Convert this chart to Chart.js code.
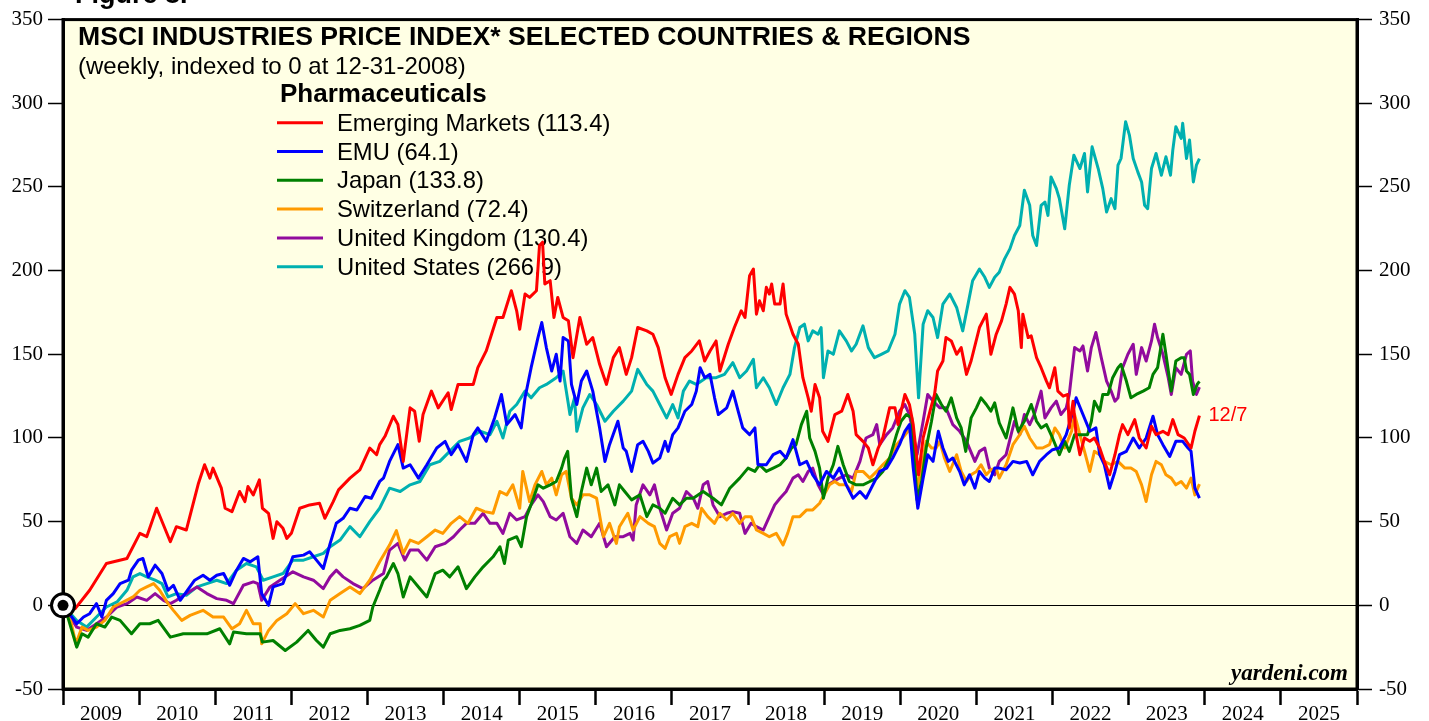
<!DOCTYPE html>
<html>
<head>
<meta charset="utf-8">
<script src="https://cdn.jsdelivr.net/npm/chart.js@4.4.1/dist/chart.umd.min.js"></script>
<style>
  html, body { margin: 0; padding: 0; background: #ffffff; }
  #wrap { width: 1429px; height: 721px; position: relative; overflow: hidden; }
  canvas { display: block; }
</style>
</head>
<body>
<div id="wrap"><canvas id="c" width="1429" height="721"></canvas></div>
<script>
// ---------------- DATA (decimal year, index value) ----------------
const emergingMarkets = [[2009.00,0],[2009.16,-2],[2009.35,9],[2009.57,25],[2009.84,28],[2010.01,43],[2010.10,41],[2010.23,58],[2010.41,38],[2010.49,47],[2010.62,45],[2010.78,73],[2010.86,84],[2010.93,76],[2010.97,82],[2011.08,70],[2011.13,58],[2011.22,56],[2011.32,68],[2011.39,62],[2011.43,71],[2011.50,66],[2011.58,75],[2011.62,58],[2011.70,55],[2011.76,40],[2011.81,50],[2011.89,46],[2011.94,40],[2012.00,43],[2012.11,58],[2012.24,60],[2012.37,61],[2012.44,52],[2012.55,62],[2012.62,69],[2012.77,76],[2012.90,81],[2013.03,94],[2013.12,90],[2013.16,96],[2013.23,101],[2013.34,113],[2013.40,108],[2013.47,86],[2013.56,118],[2013.62,116],[2013.68,98],[2013.73,114],[2013.84,128],[2013.93,118],[2014.06,127],[2014.10,117],[2014.19,132],[2014.39,132],[2014.45,142],[2014.56,152],[2014.70,172],[2014.78,172],[2014.89,188],[2014.96,176],[2015.00,165],[2015.07,186],[2015.13,184],[2015.22,188],[2015.26,215],[2015.30,217],[2015.33,192],[2015.40,194],[2015.45,172],[2015.50,184],[2015.57,172],[2015.64,170],[2015.70,148],[2015.79,172],[2015.88,156],[2015.96,160],[2016.05,144],[2016.14,132],[2016.23,148],[2016.31,154],[2016.40,138],[2016.47,148],[2016.55,166],[2016.67,164],[2016.75,162],[2016.82,154],[2016.91,136],[2016.99,126],[2017.08,138],[2017.17,148],[2017.26,152],[2017.36,158],[2017.43,146],[2017.50,152],[2017.58,158],[2017.63,140],[2017.74,156],[2017.82,166],[2017.91,176],[2017.96,172],[2018.02,197],[2018.07,201],[2018.11,174],[2018.15,182],[2018.20,176],[2018.24,190],[2018.28,186],[2018.31,192],[2018.35,180],[2018.42,180],[2018.46,192],[2018.50,174],[2018.59,162],[2018.66,156],[2018.72,136],[2018.79,124],[2018.83,116],[2018.88,132],[2018.94,124],[2018.98,104],[2019.05,98],[2019.14,114],[2019.23,116],[2019.31,126],[2019.38,116],[2019.42,102],[2019.51,98],[2019.58,94],[2019.64,84],[2019.71,94],[2019.77,100],[2019.86,118],[2019.93,118],[2019.97,108],[2020.06,126],[2020.12,120],[2020.17,108],[2020.24,78],[2020.30,100],[2020.39,116],[2020.45,126],[2020.49,140],[2020.56,146],[2020.60,160],[2020.67,158],[2020.74,150],[2020.80,154],[2020.87,138],[2020.93,146],[2021.04,166],[2021.13,174],[2021.19,150],[2021.26,162],[2021.33,170],[2021.39,180],[2021.44,190],[2021.50,186],[2021.55,176],[2021.59,154],[2021.61,174],[2021.68,160],[2021.72,161],[2021.79,148],[2021.85,142],[2021.92,134],[2021.96,130],[2022.03,142],[2022.07,128],[2022.14,125],[2022.20,126],[2022.22,106],[2022.27,122],[2022.31,102],[2022.36,90],[2022.42,100],[2022.49,98],[2022.55,100],[2022.62,94],[2022.68,86],[2022.75,78],[2022.82,90],[2022.88,102],[2022.92,108],[2022.99,102],[2023.08,111],[2023.14,100],[2023.23,94],[2023.30,107],[2023.36,102],[2023.45,104],[2023.52,102],[2023.58,111],[2023.65,102],[2023.73,100],[2023.82,94],[2023.87,104],[2023.93,113.4]];

const emu = [[2009.00,0],[2009.18,-11],[2009.27,-7],[2009.35,-5],[2009.44,1],[2009.51,-7],[2009.57,3],[2009.66,7],[2009.75,13],[2009.86,15],[2009.90,21],[2009.99,27],[2010.05,28],[2010.12,17],[2010.21,24],[2010.30,19],[2010.38,9],[2010.45,12],[2010.54,3],[2010.62,8],[2010.73,15],[2010.84,18],[2010.93,15],[2011.02,18],[2011.11,19],[2011.19,12],[2011.28,21],[2011.37,28],[2011.46,26],[2011.56,29],[2011.61,7],[2011.70,0],[2011.76,11],[2011.89,13],[2012.02,29],[2012.16,30],[2012.24,32],[2012.33,27],[2012.42,22],[2012.51,37],[2012.59,49],[2012.68,52],[2012.77,58],[2012.86,57],[2012.97,65],[2013.05,64],[2013.16,74],[2013.21,76],[2013.29,86],[2013.40,96],[2013.47,82],[2013.56,84],[2013.67,76],[2013.78,84],[2013.91,94],[2014.02,98],[2014.10,90],[2014.19,96],[2014.30,86],[2014.39,102],[2014.45,106],[2014.56,98],[2014.67,112],[2014.76,126],[2014.83,108],[2014.94,114],[2015.02,106],[2015.07,124],[2015.15,142],[2015.24,160],[2015.29,169],[2015.35,154],[2015.42,140],[2015.48,150],[2015.53,134],[2015.57,160],[2015.64,158],[2015.68,132],[2015.75,120],[2015.81,134],[2015.88,140],[2015.96,128],[2016.05,106],[2016.12,86],[2016.18,96],[2016.29,110],[2016.36,94],[2016.40,92],[2016.47,80],[2016.55,96],[2016.62,98],[2016.69,92],[2016.75,85],[2016.84,88],[2016.91,98],[2016.95,92],[2017.01,102],[2017.08,106],[2017.17,116],[2017.26,120],[2017.32,128],[2017.37,142],[2017.43,136],[2017.50,138],[2017.56,124],[2017.61,114],[2017.72,118],[2017.80,128],[2017.87,116],[2017.93,106],[2018.02,102],[2018.09,106],[2018.13,84],[2018.24,84],[2018.33,90],[2018.42,92],[2018.50,88],[2018.59,99],[2018.68,84],[2018.77,86],[2018.85,78],[2018.94,72],[2019.03,80],[2019.12,76],[2019.20,82],[2019.29,72],[2019.38,64],[2019.47,68],[2019.55,64],[2019.64,72],[2019.73,80],[2019.82,82],[2019.90,88],[2019.99,96],[2020.06,104],[2020.12,108],[2020.17,82],[2020.23,58],[2020.30,76],[2020.36,90],[2020.43,86],[2020.50,104],[2020.56,94],[2020.63,86],[2020.69,88],[2020.78,80],[2020.84,72],[2020.91,78],[2020.98,70],[2021.04,80],[2021.11,76],[2021.17,74],[2021.24,82],[2021.30,82],[2021.39,81],[2021.48,86],[2021.57,85],[2021.66,86],[2021.74,78],[2021.83,86],[2021.92,90],[2022.00,93],[2022.09,94],[2022.18,102],[2022.27,116],[2022.31,124],[2022.40,114],[2022.49,104],[2022.57,106],[2022.62,90],[2022.68,84],[2022.75,70],[2022.82,80],[2022.88,90],[2022.97,92],[2023.06,100],[2023.14,94],[2023.23,100],[2023.32,113],[2023.38,102],[2023.45,96],[2023.54,89],[2023.62,98],[2023.71,98],[2023.78,94],[2023.82,92],[2023.87,70],[2023.93,64.1]];

const japan = [[2009.00,0],[2009.05,-5],[2009.18,-25],[2009.25,-17],[2009.33,-19],[2009.44,-11],[2009.55,-13],[2009.64,-7],[2009.75,-9],[2009.90,-17],[2010.01,-11],[2010.14,-11],[2010.25,-9],[2010.41,-19],[2010.58,-17],[2010.76,-17],[2010.89,-17],[2011.06,-14],[2011.19,-23],[2011.24,-16],[2011.41,-17],[2011.59,-17],[2011.62,-22],[2011.76,-21],[2011.92,-27],[2012.07,-22],[2012.22,-15],[2012.33,-21],[2012.42,-25],[2012.51,-17],[2012.64,-15],[2012.77,-14],[2012.90,-12],[2013.03,-9],[2013.07,-1],[2013.16,9],[2013.21,15],[2013.25,17],[2013.34,25],[2013.40,19],[2013.47,5],[2013.56,17],[2013.67,11],[2013.78,5],[2013.89,19],[2013.99,21],[2014.08,17],[2014.19,23],[2014.30,10],[2014.41,17],[2014.52,23],[2014.65,29],[2014.74,35],[2014.80,25],[2014.85,39],[2014.96,41],[2015.02,35],[2015.09,53],[2015.18,64],[2015.24,72],[2015.31,70],[2015.40,72],[2015.48,74],[2015.55,82],[2015.59,88],[2015.63,92],[2015.68,64],[2015.75,53],[2015.81,68],[2015.88,82],[2015.94,72],[2016.01,82],[2016.07,68],[2016.16,72],[2016.25,60],[2016.31,72],[2016.38,68],[2016.47,63],[2016.58,66],[2016.67,53],[2016.75,60],[2016.84,58],[2016.91,55],[2017.01,64],[2017.10,60],[2017.19,64],[2017.28,64],[2017.41,68],[2017.54,64],[2017.65,60],[2017.76,70],[2017.89,76],[2018.00,82],[2018.09,80],[2018.15,84],[2018.24,80],[2018.33,82],[2018.42,84],[2018.50,88],[2018.57,94],[2018.63,96],[2018.70,108],[2018.77,116],[2018.81,100],[2018.88,92],[2018.94,82],[2018.99,64],[2019.05,76],[2019.12,84],[2019.18,95],[2019.25,84],[2019.33,74],[2019.42,72],[2019.51,72],[2019.60,74],[2019.69,76],[2019.77,80],[2019.86,88],[2019.95,102],[2020.01,110],[2020.08,114],[2020.15,112],[2020.22,63],[2020.28,74],[2020.34,94],[2020.41,110],[2020.47,126],[2020.54,120],[2020.60,116],[2020.67,124],[2020.74,112],[2020.80,106],[2020.86,92],[2020.93,112],[2021.00,118],[2021.06,124],[2021.13,120],[2021.19,116],[2021.24,121],[2021.30,109],[2021.39,100],[2021.48,118],[2021.55,104],[2021.63,110],[2021.72,120],[2021.79,110],[2021.85,106],[2021.92,108],[2022.00,100],[2022.09,90],[2022.16,98],[2022.22,92],[2022.29,102],[2022.38,102],[2022.46,102],[2022.51,110],[2022.55,122],[2022.62,116],[2022.66,126],[2022.73,126],[2022.79,136],[2022.86,142],[2022.90,144],[2022.97,134],[2023.03,124],[2023.10,126],[2023.19,128],[2023.27,130],[2023.32,138],[2023.38,142],[2023.45,162],[2023.49,150],[2023.56,128],[2023.62,146],[2023.69,148],[2023.73,148],[2023.76,140],[2023.80,138],[2023.85,126],[2023.90,132],[2023.93,133.8]];

const switzerland = [[2009.00,0],[2009.09,-7],[2009.17,-23],[2009.25,-13],[2009.33,-15],[2009.44,-13],[2009.55,-9],[2009.66,-1],[2009.79,2],[2009.92,5],[2010.01,9],[2010.10,11],[2010.19,13],[2010.27,9],[2010.38,1],[2010.45,-3],[2010.56,-9],[2010.67,-6],[2010.84,-3],[2010.97,-7],[2011.11,-7],[2011.22,-14],[2011.32,-11],[2011.41,-3],[2011.50,-11],[2011.59,-11],[2011.61,-23],[2011.70,-15],[2011.81,-9],[2011.94,-5],[2012.05,1],[2012.16,-5],[2012.29,-3],[2012.42,-7],[2012.51,3],[2012.64,7],[2012.77,11],[2012.90,7],[2013.03,15],[2013.16,26],[2013.29,36],[2013.38,44.6],[2013.47,31],[2013.56,39],[2013.67,37],[2013.78,41],[2013.89,45],[2013.99,43],[2014.10,49],[2014.21,53],[2014.32,49],[2014.43,58],[2014.54,56],[2014.65,55],[2014.74,68],[2014.83,66],[2014.91,72],[2015.00,58],[2015.04,80],[2015.13,62],[2015.20,72],[2015.29,80],[2015.35,72],[2015.42,76],[2015.48,66],[2015.55,78],[2015.61,80],[2015.68,64],[2015.75,60],[2015.83,66],[2015.92,66],[2016.01,64],[2016.10,41],[2016.18,49],[2016.27,37],[2016.31,47],[2016.42,55],[2016.49,45],[2016.58,53],[2016.69,49],[2016.77,47],[2016.84,37],[2016.91,34],[2016.97,41],[2017.06,43],[2017.10,37],[2017.17,47],[2017.26,49],[2017.34,47],[2017.39,58],[2017.47,53],[2017.56,49],[2017.63,55],[2017.72,51],[2017.80,55],[2017.89,49],[2017.96,53],[2018.04,53],[2018.11,45],[2018.20,43],[2018.28,41],[2018.37,43],[2018.46,36],[2018.52,43],[2018.59,53],[2018.68,53],[2018.77,57],[2018.85,57],[2018.94,61],[2019.01,67],[2019.07,72],[2019.14,74],[2019.20,72],[2019.29,72],[2019.36,68],[2019.42,80],[2019.51,80],[2019.60,76],[2019.69,80],[2019.77,84],[2019.86,88],[2019.95,96],[2020.03,100],[2020.10,104],[2020.15,108],[2020.17,100],[2020.22,70],[2020.28,82],[2020.34,98],[2020.41,94],[2020.47,94],[2020.52,98],[2020.58,88],[2020.65,80],[2020.74,90],[2020.80,80],[2020.87,74],[2020.93,78],[2021.00,80],[2021.06,84],[2021.13,78],[2021.19,81],[2021.26,82],[2021.30,76],[2021.39,84],[2021.48,96],[2021.57,102],[2021.63,107],[2021.70,100],[2021.79,94],[2021.87,94],[2021.96,96],[2022.03,106],[2022.09,102],[2022.16,94],[2022.25,104],[2022.29,114],[2022.36,102],[2022.42,92],[2022.49,80],[2022.55,92],[2022.62,90],[2022.68,86],[2022.77,84],[2022.86,86],[2022.95,82],[2023.03,82],[2023.10,80],[2023.17,72],[2023.23,62],[2023.30,78],[2023.36,86],[2023.43,84],[2023.49,78],[2023.56,76],[2023.62,72],[2023.69,74],[2023.76,70],[2023.82,76],[2023.87,66],[2023.93,72.4]];

const unitedKingdom = [[2009.00,0],[2009.18,-13],[2009.31,-15],[2009.44,-11],[2009.57,-7],[2009.71,-1],[2009.84,1],[2009.97,5],[2010.10,3],[2010.21,7],[2010.32,3],[2010.41,1],[2010.49,3],[2010.62,7],[2010.76,11],[2010.89,7],[2011.02,4],[2011.15,3],[2011.24,1],[2011.37,12],[2011.50,14],[2011.56,13],[2011.61,3],[2011.72,11],[2011.85,15],[2012.02,20],[2012.16,17],[2012.29,15],[2012.42,10],[2012.51,17],[2012.59,21],[2012.68,17],[2012.81,13],[2012.94,10],[2013.07,15],[2013.21,19],[2013.29,33],[2013.40,37],[2013.49,27],[2013.56,33],[2013.67,33],[2013.78,27],[2013.89,35],[2014.02,37],[2014.13,41],[2014.21,45],[2014.30,49],[2014.41,49],[2014.52,55],[2014.61,49],[2014.70,49],[2014.78,43],[2014.87,55],[2014.96,51],[2015.07,53],[2015.15,60],[2015.24,66],[2015.31,62],[2015.40,53],[2015.48,51],[2015.57,55],[2015.66,41],[2015.75,37],[2015.83,45],[2015.94,41],[2016.05,49],[2016.14,35],[2016.25,41],[2016.36,41],[2016.45,43],[2016.49,39],[2016.53,60],[2016.62,72],[2016.71,66],[2016.77,72],[2016.84,58],[2016.93,45],[2017.01,55],[2017.10,58],[2017.19,68],[2017.28,64],[2017.34,58],[2017.41,72],[2017.47,74],[2017.54,60],[2017.63,53],[2017.72,55],[2017.80,56],[2017.89,55],[2017.96,43],[2018.04,49],[2018.11,47],[2018.20,45],[2018.28,53],[2018.35,60],[2018.42,64],[2018.50,68],[2018.59,76],[2018.66,78],[2018.72,74],[2018.79,80],[2018.85,82],[2018.92,72],[2018.99,66],[2019.05,72],[2019.12,74],[2019.20,76],[2019.29,78],[2019.38,76],[2019.47,86],[2019.55,100],[2019.64,102],[2019.69,108],[2019.73,96],[2019.82,102],[2019.90,106],[2019.99,116],[2020.06,120],[2020.12,114],[2020.22,90],[2020.30,110],[2020.36,126],[2020.43,122],[2020.52,118],[2020.60,118],[2020.69,108],[2020.78,104],[2020.87,98],[2020.98,86],[2021.04,92],[2021.11,94],[2021.17,82],[2021.24,78],[2021.30,86],[2021.39,90],[2021.50,110],[2021.57,102],[2021.63,114],[2021.70,108],[2021.76,114],[2021.85,128],[2021.90,112],[2021.98,118],[2022.05,122],[2022.11,114],[2022.18,118],[2022.22,126],[2022.29,154],[2022.36,152],[2022.40,155],[2022.46,140],[2022.51,154],[2022.57,163],[2022.64,148],[2022.71,134],[2022.77,128],[2022.82,122],[2022.86,124],[2022.92,142],[2022.99,150],[2023.06,156],[2023.10,138],[2023.17,154],[2023.23,146],[2023.30,158],[2023.34,168],[2023.38,160],[2023.45,150],[2023.52,136],[2023.56,126],[2023.62,142],[2023.69,138],[2023.76,150],[2023.81,152],[2023.84,134],[2023.89,126],[2023.93,130.4]];

const unitedStates = [[2009.00,0],[2009.18,-9],[2009.31,-13],[2009.44,-7],[2009.57,-1],[2009.71,2],[2009.84,9],[2009.92,17],[2010.01,19],[2010.10,17],[2010.21,15],[2010.30,13],[2010.38,5],[2010.49,7],[2010.62,6],[2010.76,11],[2010.89,13],[2011.02,15],[2011.15,13],[2011.28,21],[2011.41,25],[2011.54,23],[2011.63,15],[2011.76,17],[2011.89,19],[2012.02,27],[2012.16,27],[2012.29,29],[2012.42,31],[2012.51,35],[2012.64,39],[2012.77,47],[2012.90,41],[2013.03,50],[2013.16,58],[2013.29,70],[2013.43,68],[2013.56,72],[2013.69,74],[2013.82,84],[2013.95,86],[2014.08,92],[2014.21,98],[2014.34,100],[2014.48,104],[2014.61,102],[2014.70,110],[2014.78,100],[2014.87,116],[2014.96,120],[2015.07,128],[2015.15,124],[2015.26,130],[2015.35,132],[2015.48,136],[2015.57,140],[2015.64,120],[2015.66,114],[2015.72,124],[2015.75,104],[2015.83,118],[2015.92,126],[2016.01,120],[2016.12,110],[2016.23,116],[2016.36,122],[2016.47,128],[2016.55,141],[2016.67,132],[2016.75,128],[2016.84,120],[2016.93,112],[2017.01,120],[2017.08,112],[2017.15,128],[2017.23,134],[2017.32,132],[2017.45,136],[2017.58,136],[2017.69,138],[2017.80,145],[2017.89,136],[2017.98,140],[2018.07,147],[2018.11,130],[2018.20,136],[2018.28,130],[2018.37,120],[2018.46,130],[2018.55,138],[2018.61,154],[2018.68,166],[2018.74,168],[2018.79,158],[2018.85,164],[2018.92,162],[2018.96,166],[2018.99,136],[2019.05,152],[2019.12,150],[2019.20,164],[2019.29,158],[2019.36,152],[2019.42,156],[2019.51,167],[2019.58,154],[2019.66,148],[2019.75,150],[2019.84,152],[2019.93,162],[2019.99,180],[2020.06,188],[2020.12,184],[2020.19,162],[2020.24,124],[2020.30,168],[2020.36,176],[2020.43,172],[2020.49,160],[2020.56,180],[2020.65,186],[2020.74,178],[2020.82,164],[2020.89,180],[2020.95,194],[2021.04,201],[2021.11,196],[2021.17,190],[2021.24,196],[2021.30,199],[2021.37,207],[2021.44,213],[2021.50,221],[2021.57,227],[2021.63,248],[2021.70,239],[2021.74,221],[2021.79,215],[2021.85,239],[2021.90,241],[2021.94,233],[2021.98,256],[2022.05,249],[2022.09,243],[2022.16,225],[2022.22,251],[2022.28,269],[2022.36,261],[2022.42,270],[2022.46,247],[2022.52,274],[2022.60,261],[2022.66,249],[2022.71,235],[2022.77,243],[2022.82,237],[2022.86,263],[2022.90,267],[2022.96,289],[2023.01,281],[2023.06,267],[2023.12,259],[2023.17,253],[2023.21,239],[2023.25,237],[2023.30,261],[2023.36,270],[2023.43,257],[2023.49,268],[2023.55,257],[2023.58,272],[2023.62,286],[2023.69,279],[2023.71,288],[2023.76,267],[2023.80,278],[2023.85,253],[2023.89,263],[2023.93,266.9]];

const seriesNames = ['Emerging Markets', 'EMU', 'Japan', 'Switzerland', 'United Kingdom', 'United States'];
const seriesData = [emergingMarkets, emu, japan, switzerland, unitedKingdom, unitedStates];
const yearLabels = ['2009','2010','2011','2012','2013','2014','2015','2016','2017','2018','2019','2020','2021','2022','2023','2024','2025'];
const yTickValues = [-50, 0, 50, 100, 150, 200, 250, 300, 350];
const lastDateLabel = '12/7';
const titleText = 'MSCI INDUSTRIES PRICE INDEX* SELECTED COUNTRIES & REGIONS';
const subtitleText = '(weekly, indexed to 0 at 12-31-2008)';
const legendTitle = 'Pharmaceuticals';
const sourceText = 'yardeni.com';
const figureText = 'Figure 8.';

// ---------------- STYLE ----------------
const seriesColors = ['#ff0000', '#0000ff', '#008000', '#ff9a00', '#910b9d', '#00b0b0'];
const SANS = "'Liberation Sans', Arial, Helvetica, sans-serif";
const SERIF = "'Liberation Serif', 'Times New Roman', serif";
const PLOT_BG = '#ffffe4';

const decor = {
  id: 'decor',
  beforeDraw(chart) {
    const { ctx, chartArea: a } = chart;
    ctx.save();
    ctx.fillStyle = '#ffffff';
    ctx.fillRect(0, 0, chart.width, chart.height);
    ctx.fillStyle = PLOT_BG;
    ctx.fillRect(a.left, a.top, a.right - a.left, a.bottom - a.top);
    ctx.restore();
  },
  beforeDatasetsDraw(chart) {
    const { ctx } = chart;
    ctx.save();
    ctx.fillStyle = '#000';
    ctx.textBaseline = 'alphabetic';
    ctx.textAlign = 'left';
    ctx.font = 'bold 26.6px ' + SANS;
    ctx.fillText(titleText, 78, 45);
    ctx.font = '24px ' + SANS;
    ctx.fillText(subtitleText, 78, 74);
    ctx.font = 'bold 26px ' + SANS;
    ctx.fillText(legendTitle, 280, 102);
    ctx.font = '23.8px ' + SANS;
    seriesNames.forEach((name, i) => {
      const rowY = 122.7 + i * 28.8;
      ctx.strokeStyle = seriesColors[i];
      ctx.lineWidth = 3;
      ctx.beginPath();
      ctx.moveTo(277, rowY);
      ctx.lineTo(323, rowY);
      ctx.stroke();
      const last = seriesData[i][seriesData[i].length - 1][1];
      ctx.fillStyle = '#000';
      ctx.fillText(name + ' (' + last.toFixed(1) + ')', 337, rowY + 8);
    });
    ctx.restore();
  },
  afterDatasetsDraw(chart) {
    const { ctx, chartArea: a, scales } = chart;
    ctx.save();
    // frame
    ctx.strokeStyle = '#000';
    ctx.lineWidth = 3;
    ctx.strokeRect(a.left, a.top, a.right - a.left, a.bottom - a.top);
    // start marker
    const mx = scales.x.getPixelForValue(emergingMarkets[0][0]);
    const my = scales.y.getPixelForValue(0);
    ctx.beginPath();
    ctx.arc(mx, my, 11.5, 0, Math.PI * 2);
    ctx.fillStyle = '#fff';
    ctx.fill();
    ctx.lineWidth = 3;
    ctx.strokeStyle = '#000';
    ctx.stroke();
    ctx.beginPath();
    ctx.arc(mx, my, 5.5, 0, Math.PI * 2);
    ctx.fillStyle = '#000';
    ctx.fill();
    // last date label
    const last = emergingMarkets[emergingMarkets.length - 1];
    ctx.fillStyle = seriesColors[0];
    ctx.font = '20px ' + SANS;
    ctx.textAlign = 'left';
    ctx.textBaseline = 'middle';
    ctx.fillText(lastDateLabel, scales.x.getPixelForValue(last[0]) + 9, scales.y.getPixelForValue(last[1]));
    // source
    ctx.fillStyle = '#000';
    ctx.font = 'italic bold 23px ' + SERIF;
    ctx.textAlign = 'right';
    ctx.textBaseline = 'alphabetic';
    ctx.fillText(sourceText, a.right - 9, a.bottom - 9);
    ctx.restore();
  },
  afterDraw(chart) {
    const { ctx } = chart;
    ctx.save();
    ctx.fillStyle = '#000';
    ctx.font = 'bold 27px ' + SANS;
    ctx.textAlign = 'left';
    ctx.textBaseline = 'alphabetic';
    ctx.fillText(figureText, 75, 3);
    ctx.restore();
  }
};

const tickFont = { family: SERIF, size: 21 };

new Chart(document.getElementById('c'), {
  type: 'line',
  data: {
    datasets: seriesData.map((arr, i) => ({
      label: seriesNames[i],
      data: arr.map(([x, y]) => ({ x, y })),
      borderColor: seriesColors[i],
      backgroundColor: seriesColors[i],
      borderWidth: 3,
      pointRadius: 0,
      tension: 0,
      fill: false,
      borderJoinStyle: 'round'
    }))
  },
  options: {
    responsive: false,
    animation: false,
    devicePixelRatio: 1,
    layout: { padding: { top: 17, left: 0, right: 0, bottom: 0 } },
    plugins: { legend: { display: false }, tooltip: { enabled: false } },
    scales: {
      x: {
        type: 'linear',
        position: 'bottom',
        min: 2009,
        max: 2026,
        afterBuildTicks: (s) => { s.ticks = yearLabels.map((l, i) => ({ value: 2009.5 + i })); },
        afterFit: (s) => { s.height = 32; },
        ticks: {
          autoSkip: false, maxRotation: 0, minRotation: 0,
          callback: (v, i) => yearLabels[i],
          font: tickFont, color: '#000', padding: -3
        },
        grid: {
          display: true, drawOnChartArea: false, drawTicks: true, offset: true,
          tickLength: 16, tickColor: '#000', tickWidth: 2.5, color: '#000'
        },
        border: { display: true, color: '#000', width: 3 }
      },
      y: {
        type: 'linear',
        position: 'left',
        min: -50,
        max: 350,
        afterBuildTicks: (s) => { s.ticks = yTickValues.map(v => ({ value: v })); },
        afterFit: (s) => { s.width = 63; },
        ticks: { font: tickFont, color: '#000', padding: 5 },
        grid: {
          display: true, drawOnChartArea: true, drawTicks: true,
          color: (c) => (c.tick && c.tick.value === 0 ? '#000' : 'rgba(0,0,0,0)'),
          lineWidth: 1, tickLength: 15, tickColor: '#000', tickWidth: 1.5
        },
        border: { display: true, color: '#000', width: 3 }
      },
      y2: {
        type: 'linear',
        position: 'right',
        min: -50,
        max: 350,
        afterBuildTicks: (s) => { s.ticks = yTickValues.map(v => ({ value: v })); },
        afterFit: (s) => { s.width = 72; },
        ticks: { font: tickFont, color: '#000', padding: 7 },
        grid: {
          display: true, drawOnChartArea: false, drawTicks: true,
          tickLength: 15, tickColor: '#000', tickWidth: 1.5, color: '#000'
        },
        border: { display: true, color: '#000', width: 3 }
      }
    }
  },
  plugins: [decor]
});
</script>
</body>
</html>
